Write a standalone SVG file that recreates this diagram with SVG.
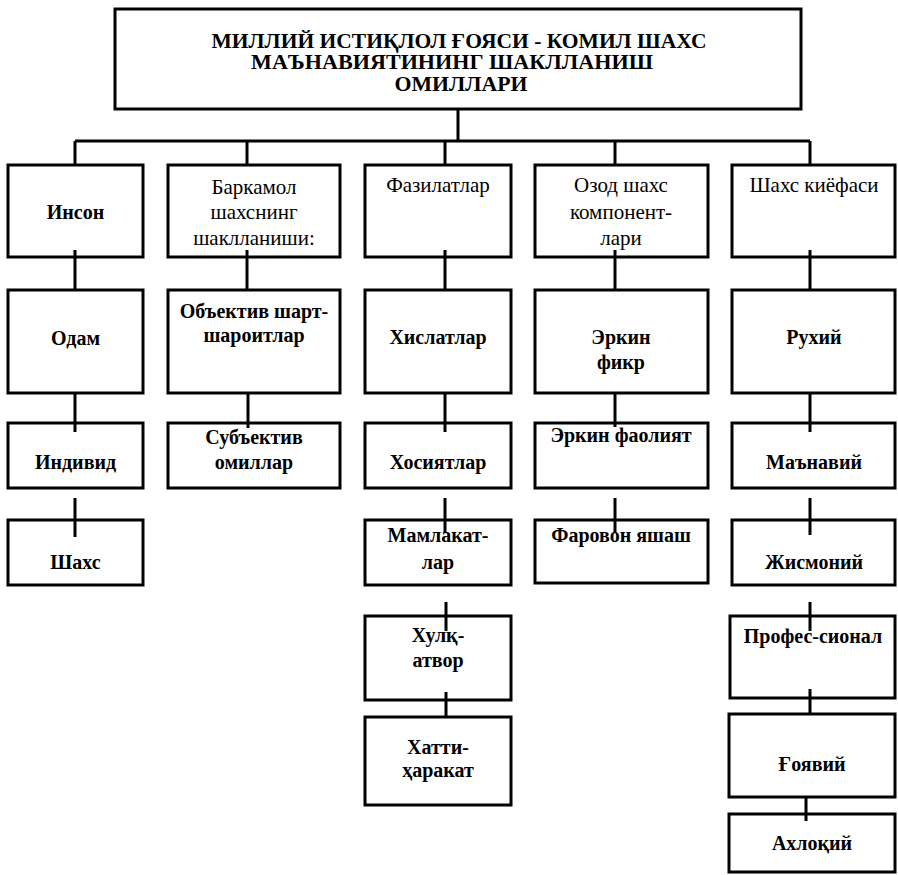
<svg xmlns="http://www.w3.org/2000/svg" width="898" height="875" viewBox="0 0 898 875">
<style>
.box{fill:#fff;stroke:#000;stroke-width:3}
.ln{stroke:#000;stroke-width:3;fill:none}
.t{font-family:"Liberation Serif","DejaVu Serif",serif;font-size:20px;text-anchor:middle;fill:#000}
.r{font-size:21px}
.b{font-weight:bold}
.h{font-family:"Liberation Serif","DejaVu Serif",serif;font-size:20px;font-weight:bold;text-anchor:middle;fill:#000}
</style>
<rect width="898" height="875" fill="#fff"/>
<g id="title">
<rect class="box" x="115" y="9" width="686" height="100"/>
<text class="h" x="459" y="48" textLength="495" lengthAdjust="spacingAndGlyphs">МИЛЛИЙ ИСТИҚЛОЛ ҒОЯСИ - КОМИЛ ШАХС</text>
<text class="h" x="452" y="69" textLength="402" lengthAdjust="spacingAndGlyphs">МАЪНАВИЯТИНИНГ ШАКЛЛАНИШ</text>
<text class="h" x="461" y="91" textLength="133" lengthAdjust="spacingAndGlyphs">ОМИЛЛАРИ</text>
</g>
<g id="col1">
<g id="inson"><rect class="box" x="8" y="165" width="135" height="92"/><text class="t b" x="75.5" y="219">Инсон</text></g>
<g id="odam"><rect class="box" x="8" y="290" width="135" height="103"/><text class="t b" x="75.5" y="345">Одам</text></g>
<g id="individ"><rect class="box" x="8" y="423" width="135" height="65"/><text class="t b" x="75.5" y="469">Индивид</text></g>
<g id="shaxs"><rect class="box" x="8" y="520" width="135" height="65"/><text class="t b" x="75.5" y="569">Шахс</text></g>
</g>
<g id="col2">
<g id="barkamol"><rect class="box" x="168" y="165" width="172" height="92"/><text class="t r" x="254" y="194">Баркамол</text><text class="t r" x="254" y="219">шахснинг</text><text class="t r" x="254" y="245">шаклланиши:</text></g>
<g id="obektiv"><rect class="box" x="168" y="290" width="172" height="103"/><text class="t b" x="254" y="318">Объектив шарт-</text><text class="t b" x="254" y="342">шароитлар</text></g>
<g id="subektiv"><rect class="box" x="168" y="423" width="172" height="65"/><text class="t b" x="254" y="444">Субъектив</text><text class="t b" x="254" y="469">омиллар</text></g>
</g>
<g id="col3">
<g id="fazilatlar"><rect class="box" x="365" y="165" width="146" height="92"/><text class="t r" x="438" y="192">Фазилатлар</text></g>
<g id="xislatlar"><rect class="box" x="365" y="290" width="146" height="103"/><text class="t b" x="438" y="344">Хислатлар</text></g>
<g id="xosiyatlar"><rect class="box" x="365" y="423" width="146" height="65"/><text class="t b" x="438" y="469">Хосиятлар</text></g>
<g id="mamlakatlar"><rect class="box" x="365" y="520" width="146" height="65"/><text class="t b" x="438" y="542">Мамлакат-</text><text class="t b" x="438" y="569">лар</text></g>
<g id="xulqatvor"><rect class="box" x="365" y="616" width="146" height="84"/><text class="t b" x="438" y="642">Хулқ-</text><text class="t b" x="438" y="667">атвор</text></g>
<g id="xatti"><rect class="box" x="365" y="717" width="146" height="88"/><text class="t b" x="438" y="754">Хатти-</text><text class="t b" x="438" y="777">ҳаракат</text></g>
</g>
<g id="col4">
<g id="ozod"><rect class="box" x="535" y="165" width="173" height="92"/><text class="t r" x="621" y="192">Озод шахс</text><text class="t r" x="621" y="219">компонент-</text><text class="t r" x="621" y="245">лари</text></g>
<g id="erkinfikr"><rect class="box" x="535" y="290" width="173" height="103"/><text class="t b" x="621" y="344">Эркин</text><text class="t b" x="621" y="369">фикр</text></g>
<g id="erkinfaoliyat"><rect class="box" x="535" y="423" width="173" height="65"/><text class="t b" x="621" y="442">Эркин фаолият</text></g>
<g id="farovon"><rect class="box" x="535" y="520" width="173" height="63"/><text class="t b" x="621" y="542">Фаровон яшаш</text></g>
</g>
<g id="col5">
<g id="qiyofa"><rect class="box" x="732" y="165" width="163" height="92"/><text class="t r" x="814" y="192">Шахс киёфаси</text></g>
<g id="ruhiy"><rect class="box" x="732" y="290" width="163" height="103"/><text class="t b" x="814" y="344">Рухий</text></g>
<g id="manaviy"><rect class="box" x="732" y="423" width="163" height="65"/><text class="t b" x="814" y="469">Маънавий</text></g>
<g id="jismoniy"><rect class="box" x="732" y="520" width="163" height="65"/><text class="t b" x="814" y="569">Жисмоний</text></g>
<g id="profes"><rect class="box" x="730" y="616" width="165" height="82"/><text class="t b" x="813" y="643">Профес-сионал</text></g>
<g id="goyaviy"><rect class="box" x="729" y="714" width="166" height="83"/><text class="t b" x="812" y="771">Ғоявий</text></g>
<g id="axloqiy"><rect class="box" x="729" y="814" width="166" height="58"/><text class="t b" x="812" y="850">Ахлоқий</text></g>
</g>
<g id="connectors" class="ln">
<line x1="458" y1="109" x2="458" y2="141"/>
<line x1="75" y1="141" x2="810" y2="141"/>
<line x1="75" y1="141" x2="75" y2="165"/>
<line x1="247" y1="141" x2="247" y2="165"/>
<line x1="445" y1="141" x2="445" y2="165"/>
<line x1="615" y1="141" x2="615" y2="165"/>
<line x1="810" y1="141" x2="810" y2="165"/>
<line x1="75" y1="250" x2="75" y2="290"/>
<line x1="247" y1="250" x2="247" y2="290"/>
<line x1="445" y1="250" x2="445" y2="290"/>
<line x1="615" y1="250" x2="615" y2="290"/>
<line x1="810" y1="250" x2="810" y2="290"/>
<line x1="75" y1="393" x2="75" y2="432"/>
<line x1="248" y1="393" x2="248" y2="428"/>
<line x1="445" y1="393" x2="445" y2="432"/>
<line x1="615" y1="393" x2="615" y2="427"/>
<line x1="810" y1="393" x2="810" y2="432"/>
<line x1="75" y1="498" x2="75" y2="537"/>
<line x1="445" y1="498" x2="445" y2="533"/>
<line x1="615" y1="498" x2="615" y2="532"/>
<line x1="810" y1="498" x2="810" y2="535"/>
<line x1="446" y1="602" x2="446" y2="631"/>
<line x1="810" y1="602" x2="810" y2="631"/>
<line x1="446" y1="692" x2="446" y2="717"/>
<line x1="810" y1="689" x2="810" y2="714"/>
<line x1="806" y1="797" x2="806" y2="821"/>
</g>
</svg>
